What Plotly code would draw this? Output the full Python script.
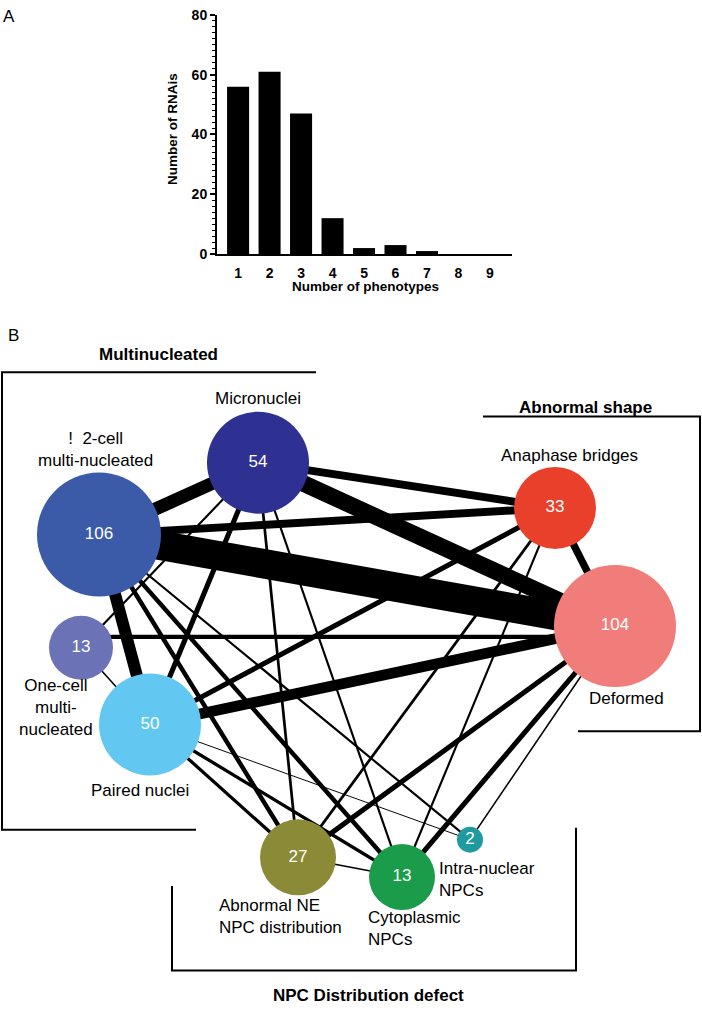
import plotly.graph_objects as go

# ---------------- Panel A data ----------------
n_phenotypes = [1, 2, 3, 4, 5, 6, 7, 8, 9]
n_rnais = [56, 61, 47, 12, 2, 3, 1, 0, 0]
y_tick_vals = [0, 20, 40, 60, 80]

# ---------------- Panel B data ----------------
node_ids = ["A2", "MN", "O1", "PN", "AB", "DF", "NE", "CY", "IN"]
node_counts = [106, 54, 13, 50, 33, 104, 27, 13, 2]
node_labels = ["!  2-cell<br>multi-nucleated", "Micronuclei", "One-cell<br>multi-<br>nucleated",
               "Paired nuclei", "Anaphase bridges", "Deformed",
               "Abnormal NE<br>NPC distribution", "Cytoplasmic<br>NPCs", "Intra-nuclear<br>NPCs"]

edge_src = ["A2", "MN", "A2", "A2", "PN", "A2", "MN", "AB", "O1", "MN", "AB", "NE", "CY",
            "A2", "A2", "PN", "PN", "MN", "MN", "AB", "AB", "A2", "MN", "O1", "NE", "PN", "IN"]
edge_dst = ["DF", "DF", "MN", "PN", "DF", "AB", "AB", "DF", "DF", "PN", "PN", "DF", "DF",
            "NE", "CY", "NE", "CY", "NE", "CY", "NE", "CY", "IN", "O1", "PN", "CY", "IN", "DF"]
edge_shared = [50, 28, 22, 20, 18, 13, 13, 12, 7, 8, 8, 8, 8,
               7, 7, 5, 5, 4, 3, 4, 3, 3, 3, 2, 2, 1, 2]

group_titles = ["Multinucleated", "Abnormal shape", "NPC Distribution defect"]

# ---------------- layout (pixel positions / sizes / colours) ----------------
W, H = 702, 1011
FONT = "Liberation Sans, Arial, Helvetica, sans-serif"
node_pos = {"A2": (99, 535), "MN": (258, 462), "O1": (81, 650), "PN": (150, 728),
            "AB": (555, 508), "DF": (615, 628), "NE": (298, 863), "CY": (402, 883),
            "IN": (470, 845)}
node_radius = {"A2": 62, "MN": 51, "O1": 32, "PN": 51, "AB": 41, "DF": 61,
               "NE": 38, "CY": 33, "IN": 13}
node_color = {"A2": "#3b5ba8", "MN": "#2e3191", "O1": "#6b72b6", "PN": "#62c8f2",
              "AB": "#e8402a", "DF": "#f07d7a", "NE": "#8b8b37", "CY": "#1a9c4a",
              "IN": "#1f9aa0"}
# per-edge endpoint offsets (px) where the drawn line leaves a node off-centre
edge_offset = {("O1", "DF"): ((0, -11), (0, 11))}
label_pos = {"A2": (95, 449, "center"), "MN": (258, 397, "center"),
             "O1": (56, 711, "center"), "PN": (140, 795, "center"),
             "AB": (569, 455, "center"), "DF": (626, 702, "center"),
             "NE": (217, 923, "left"), "CY": (366, 935, "left"),
             "IN": (437, 886, "left")}
title_pos = [(158, 352), (585, 406), (368, 1003)]


def width_of(shared):
    return 0.4 + 0.58 * shared


fig = go.Figure()

# Panel A bars
fig.add_trace(go.Bar(x=n_phenotypes, y=n_rnais, width=0.7,
                     marker=dict(color="black", line=dict(width=0)),
                     xaxis="x", yaxis="y", showlegend=False, hoverinfo="skip"))

# Panel B edges
for s, d, w in zip(edge_src, edge_dst, edge_shared):
    (ox0, oy0), (ox1, oy1) = edge_offset.get((s, d), ((0, 0), (0, 0)))
    x0, y0 = node_pos[s]
    x1, y1 = node_pos[d]
    fig.add_trace(go.Scatter(x=[x0 + ox0, x1 + ox1], y=[y0 + oy0, y1 + oy1], mode="lines",
                             line=dict(color="black", width=width_of(w)),
                             xaxis="x2", yaxis="y2", showlegend=False, hoverinfo="skip"))

# Panel B nodes
fig.add_trace(go.Scatter(
    x=[node_pos[n][0] for n in node_ids],
    y=[node_pos[n][1] for n in node_ids],
    mode="markers+text",
    marker=dict(size=[2 * node_radius[n] for n in node_ids],
                color=[node_color[n] for n in node_ids], line=dict(width=0), opacity=1),
    text=[str(c) for c in node_counts],
    textposition="middle center",
    textfont=dict(family=FONT, size=17, color="white"),
    xaxis="x2", yaxis="y2", showlegend=False, hoverinfo="skip"))

annotations = []
for n, lab in zip(node_ids, node_labels):
    x, y, al = label_pos[n]
    annotations.append(dict(x=x, y=y, xref="x2", yref="y2", text=lab, showarrow=False,
                            xanchor=al, yanchor="middle", align=al,
                            font=dict(family=FONT, size=17, color="black")))
for t, (x, y) in zip(group_titles, title_pos):
    annotations.append(dict(x=x, y=y, xref="x2", yref="y2", text=t, showarrow=False,
                            xanchor="center", yanchor="middle",
                            font=dict(family=FONT, size=17, color="black", weight="bold")))
# panel letters and panel A axis titles
annotations += [
    dict(x=9, y=9, xref="x2", yref="y2", text="A", showarrow=False, xanchor="center",
         yanchor="middle", font=dict(family=FONT, size=17, color="black")),
    dict(x=13, y=333, xref="x2", yref="y2", text="B", showarrow=False, xanchor="center",
         yanchor="middle", font=dict(family=FONT, size=17, color="black")),
    dict(x=172, y=123, xref="x2", yref="y2", text="Number of RNAis", showarrow=False,
         textangle=-90, xanchor="center", yanchor="middle",
         font=dict(family=FONT, size=13.5, color="black", weight="bold")),
    dict(x=365, y=283, xref="x2", yref="y2", text="Number of phenotypes", showarrow=False,
         xanchor="center", yanchor="middle",
         font=dict(family=FONT, size=13.5, color="black", weight="bold")),
]

shapes = []
for path in ["M 316,370 L 2,370 L 2,835 L 196,835",
             "M 483,415 L 700,415 L 700,735 L 578,735",
             "M 172,892 L 172,978 L 576,978 L 576,833"]:
    shapes.append(dict(type="path", path=path, xref="x2", yref="y2",
                       line=dict(color="black", width=2), fillcolor="rgba(0,0,0,0)"))

fig.update_layout(
    width=W, height=H, margin=dict(l=0, r=0, t=0, b=0),
    paper_bgcolor="white", plot_bgcolor="rgba(0,0,0,0)",
    font=dict(family=FONT, color="black"),
    bargap=0.3,
    xaxis=dict(domain=[217 / W, 512 / W], range=[0.33, 9.7], anchor="y",
               showline=True, linecolor="black", linewidth=2, showgrid=False, zeroline=False,
               tickvals=n_phenotypes, ticktext=[str(v) for v in n_phenotypes],
               ticks="outside", ticklen=5, tickcolor="rgba(0,0,0,0)",
               tickfont=dict(family=FONT, size=14, color="black", weight="bold")),
    yaxis=dict(domain=[1 - 250 / H, 1 - 7 / H], range=[0, 80], anchor="x",
               showline=True, linecolor="black", linewidth=2, showgrid=False, zeroline=False,
               tickvals=y_tick_vals, ticks="outside", ticklen=5, tickwidth=2, tickcolor="black",
               ticklabeloverflow="allow",
               minor=dict(ticks="outside", ticklen=3, tickwidth=1, dtick=2, tickcolor="black"),
               tickfont=dict(family=FONT, size=14, color="black", weight="bold")),
    xaxis2=dict(domain=[0, 1], range=[0, W], anchor="y2", visible=False, fixedrange=True),
    yaxis2=dict(domain=[0, 1], range=[H, 0], anchor="x2", visible=False, fixedrange=True),
    annotations=annotations, shapes=shapes,
)

fig.write_html("out.html", config={"displayModeBar": False},
               post_script="document.body.style.margin='0';")
